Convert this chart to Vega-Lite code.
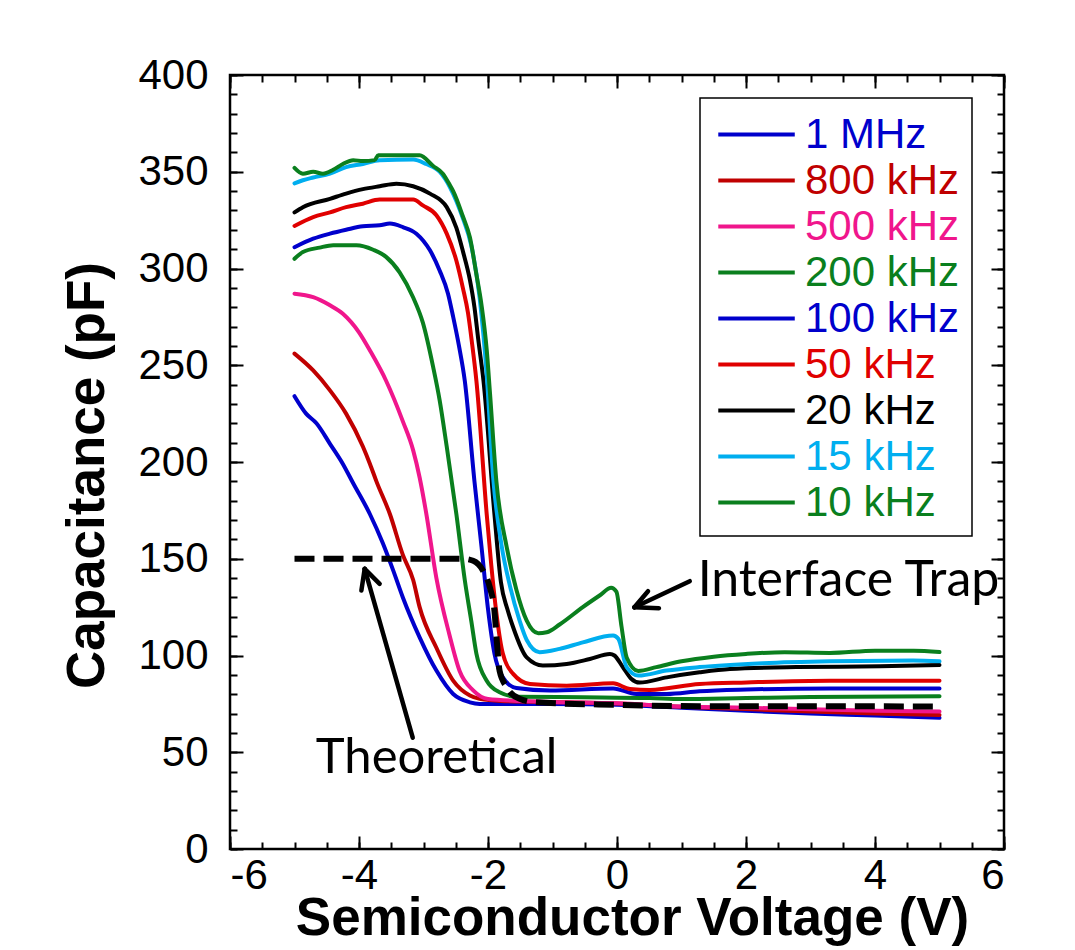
{
"$schema": "https://vega.github.io/schema/vega-lite/v6.json",
"width": 774, "height": 774,
"autosize": {"type": "none"},
"padding": {"left": 230, "top": 75, "right": 71, "bottom": 101},
"config": {
  "view": {"stroke": "black", "strokeWidth": 2.5},
  "axis": {"domain": false, "grid": false, "tickColor": "black", "tickWidth": 2, "labelFont": "Liberation Sans", "labelFontSize": 42, "labelColor": "black", "titleFont": "Liberation Sans", "titleFontSize": 53, "titleFontWeight": "bold", "titleColor": "black"}
},
"datasets": {
"freq": [
{"s":"1 MHz","V":-5,"C":234},{"s":"1 MHz","V":-4.82,"C":225},{"s":"1 MHz","V":-4.66,"C":220},{"s":"1 MHz","V":-4.45,"C":209.4},{"s":"1 MHz","V":-4.25,"C":199},{"s":"1 MHz","V":-4.09,"C":189},{"s":"1 MHz","V":-3.83,"C":173},{"s":"1 MHz","V":-3.63,"C":158},{"s":"1 MHz","V":-3.47,"C":144},{"s":"1 MHz","V":-3.32,"C":130},{"s":"1 MHz","V":-3.06,"C":109.4},{"s":"1 MHz","V":-2.8,"C":92.2},{"s":"1 MHz","V":-2.54,"C":80.1},{"s":"1 MHz","V":-2.28,"C":75.8},{"s":"1 MHz","V":-2.13,"C":75},{"s":"1 MHz","V":-1.8,"C":75},{"s":"1 MHz","V":-1,"C":75},{"s":"1 MHz","V":0,"C":74.5},{"s":"1 MHz","V":1,"C":73},{"s":"1 MHz","V":2,"C":71.5},{"s":"1 MHz","V":3,"C":70},{"s":"1 MHz","V":4,"C":69},{"s":"1 MHz","V":5,"C":67.8},
{"s":"800 kHz","V":-5,"C":256},{"s":"800 kHz","V":-4.71,"C":247.3},{"s":"800 kHz","V":-4.45,"C":237},{"s":"800 kHz","V":-4.2,"C":225},{"s":"800 kHz","V":-3.94,"C":208},{"s":"800 kHz","V":-3.83,"C":199},{"s":"800 kHz","V":-3.73,"C":190},{"s":"800 kHz","V":-3.52,"C":173},{"s":"800 kHz","V":-3.32,"C":152},{"s":"800 kHz","V":-3.16,"C":139},{"s":"800 kHz","V":-3.06,"C":125},{"s":"800 kHz","V":-2.8,"C":104},{"s":"800 kHz","V":-2.54,"C":87},{"s":"800 kHz","V":-2.28,"C":79.3},{"s":"800 kHz","V":-2.13,"C":77.6},{"s":"800 kHz","V":-1.8,"C":76.5},{"s":"800 kHz","V":-1,"C":76},{"s":"800 kHz","V":0,"C":75.2},{"s":"800 kHz","V":1,"C":73.5},{"s":"800 kHz","V":2,"C":72.3},{"s":"800 kHz","V":3,"C":71},{"s":"800 kHz","V":4,"C":70},{"s":"800 kHz","V":5,"C":69.3},
{"s":"500 kHz","V":-5,"C":287},{"s":"500 kHz","V":-4.71,"C":285.2},{"s":"500 kHz","V":-4.45,"C":281},{"s":"500 kHz","V":-4.25,"C":276.6},{"s":"500 kHz","V":-4,"C":267},{"s":"500 kHz","V":-3.83,"C":257.6},{"s":"500 kHz","V":-3.58,"C":242},{"s":"500 kHz","V":-3.32,"C":221},{"s":"500 kHz","V":-3.16,"C":206},{"s":"500 kHz","V":-3.06,"C":192},{"s":"500 kHz","V":-2.96,"C":174},{"s":"500 kHz","V":-2.8,"C":140},{"s":"500 kHz","V":-2.6,"C":111},{"s":"500 kHz","V":-2.44,"C":92},{"s":"500 kHz","V":-2.23,"C":82},{"s":"500 kHz","V":-2,"C":77.5},{"s":"500 kHz","V":-1.5,"C":76.5},{"s":"500 kHz","V":-1,"C":76},{"s":"500 kHz","V":0,"C":75.3},{"s":"500 kHz","V":1,"C":73.6},{"s":"500 kHz","V":2,"C":73},{"s":"500 kHz","V":3,"C":72.2},{"s":"500 kHz","V":4,"C":71.5},{"s":"500 kHz","V":5,"C":71},
{"s":"200 kHz","V":-5,"C":305},{"s":"200 kHz","V":-4.87,"C":308.5},{"s":"200 kHz","V":-4.61,"C":310.8},{"s":"200 kHz","V":-4.4,"C":312},{"s":"200 kHz","V":-4.04,"C":312},{"s":"200 kHz","V":-3.78,"C":309.7},{"s":"200 kHz","V":-3.58,"C":306},{"s":"200 kHz","V":-3.37,"C":298},{"s":"200 kHz","V":-3.16,"C":285},{"s":"200 kHz","V":-3.01,"C":272},{"s":"200 kHz","V":-2.85,"C":249},{"s":"200 kHz","V":-2.75,"C":232},{"s":"200 kHz","V":-2.64,"C":208},{"s":"200 kHz","V":-2.49,"C":173},{"s":"200 kHz","V":-2.36,"C":139},{"s":"200 kHz","V":-2.26,"C":118},{"s":"200 kHz","V":-2.18,"C":101},{"s":"200 kHz","V":-2.02,"C":87},{"s":"200 kHz","V":-1.82,"C":81},{"s":"200 kHz","V":-1.56,"C":78.7},{"s":"200 kHz","V":-0.53,"C":78.4},{"s":"200 kHz","V":0.51,"C":78},{"s":"200 kHz","V":1,"C":77.5},{"s":"200 kHz","V":2,"C":78},{"s":"200 kHz","V":3,"C":78.5},{"s":"200 kHz","V":5,"C":79},
{"s":"100 kHz","V":-5,"C":311},{"s":"100 kHz","V":-4.71,"C":315.4},{"s":"100 kHz","V":-4.45,"C":318},{"s":"100 kHz","V":-4.2,"C":320},{"s":"100 kHz","V":-3.94,"C":321.8},{"s":"100 kHz","V":-3.68,"C":322.3},{"s":"100 kHz","V":-3.52,"C":323.2},{"s":"100 kHz","V":-3.32,"C":321.4},{"s":"100 kHz","V":-3.11,"C":318},{"s":"100 kHz","V":-2.9,"C":309.4},{"s":"100 kHz","V":-2.75,"C":299},{"s":"100 kHz","V":-2.62,"C":287},{"s":"100 kHz","V":-2.54,"C":275},{"s":"100 kHz","V":-2.45,"C":260},{"s":"100 kHz","V":-2.36,"C":242},{"s":"100 kHz","V":-2.21,"C":190},{"s":"100 kHz","V":-2.1,"C":156},{"s":"100 kHz","V":-2,"C":124},{"s":"100 kHz","V":-1.9,"C":101},{"s":"100 kHz","V":-1.77,"C":88.7},{"s":"100 kHz","V":-1.56,"C":83.2},{"s":"100 kHz","V":-1.04,"C":81.9},{"s":"100 kHz","V":-0.06,"C":83},{"s":"100 kHz","V":0.3,"C":80.1},{"s":"100 kHz","V":0.77,"C":80.1},{"s":"100 kHz","V":1.28,"C":81.5},{"s":"100 kHz","V":2.01,"C":82.4},{"s":"100 kHz","V":3.3,"C":83},{"s":"100 kHz","V":5,"C":83},
{"s":"50 kHz","V":-5,"C":322},{"s":"50 kHz","V":-4.71,"C":326.6},{"s":"50 kHz","V":-4.45,"C":329},{"s":"50 kHz","V":-4.2,"C":331.7},{"s":"50 kHz","V":-3.94,"C":333.5},{"s":"50 kHz","V":-3.68,"C":335.6},{"s":"50 kHz","V":-3.16,"C":335.6},{"s":"50 kHz","V":-3.01,"C":332.6},{"s":"50 kHz","V":-2.8,"C":327.5},{"s":"50 kHz","V":-2.64,"C":318},{"s":"50 kHz","V":-2.49,"C":304},{"s":"50 kHz","V":-2.39,"C":290},{"s":"50 kHz","V":-2.31,"C":277},{"s":"50 kHz","V":-2.25,"C":262},{"s":"50 kHz","V":-2.18,"C":242},{"s":"50 kHz","V":-2.02,"C":173},{"s":"50 kHz","V":-1.95,"C":147},{"s":"50 kHz","V":-1.87,"C":122},{"s":"50 kHz","V":-1.77,"C":101},{"s":"50 kHz","V":-1.61,"C":90.5},{"s":"50 kHz","V":-1.35,"C":85.3},{"s":"50 kHz","V":-0.78,"C":84.4},{"s":"50 kHz","V":-0.06,"C":85.6},{"s":"50 kHz","V":0.2,"C":82.7},{"s":"50 kHz","V":0.51,"C":82.2},{"s":"50 kHz","V":1.28,"C":85.3},{"s":"50 kHz","V":2.01,"C":86.1},{"s":"50 kHz","V":3.3,"C":87},{"s":"50 kHz","V":5,"C":87},
{"s":"20 kHz","V":-5,"C":329},{"s":"20 kHz","V":-4.87,"C":331.7},{"s":"20 kHz","V":-4.45,"C":336},{"s":"20 kHz","V":-4.2,"C":338.7},{"s":"20 kHz","V":-3.94,"C":341},{"s":"20 kHz","V":-3.68,"C":342.5},{"s":"20 kHz","V":-3.42,"C":343.8},{"s":"20 kHz","V":-3.16,"C":342.5},{"s":"20 kHz","V":-2.9,"C":338.7},{"s":"20 kHz","V":-2.64,"C":331.7},{"s":"20 kHz","V":-2.49,"C":321},{"s":"20 kHz","V":-2.39,"C":309},{"s":"20 kHz","V":-2.28,"C":294},{"s":"20 kHz","V":-2.21,"C":280},{"s":"20 kHz","V":-2.15,"C":263},{"s":"20 kHz","V":-2.07,"C":242},{"s":"20 kHz","V":-1.9,"C":173},{"s":"20 kHz","V":-1.8,"C":138},{"s":"20 kHz","V":-1.7,"C":124},{"s":"20 kHz","V":-1.61,"C":114.6},{"s":"20 kHz","V":-1.4,"C":99},{"s":"20 kHz","V":-1.15,"C":94.8},{"s":"20 kHz","V":-0.78,"C":95.6},{"s":"20 kHz","V":-0.42,"C":98.2},{"s":"20 kHz","V":-0.11,"C":100.8},{"s":"20 kHz","V":-0.04,"C":100},{"s":"20 kHz","V":0.09,"C":94},{"s":"20 kHz","V":0.22,"C":88},{"s":"20 kHz","V":0.35,"C":86},{"s":"20 kHz","V":0.77,"C":88.7},{"s":"20 kHz","V":1.28,"C":91.3},{"s":"20 kHz","V":1.75,"C":93},{"s":"20 kHz","V":2.78,"C":94},{"s":"20 kHz","V":4.08,"C":94.4},{"s":"20 kHz","V":5,"C":95.1},
{"s":"15 kHz","V":-5,"C":344},{"s":"15 kHz","V":-4.87,"C":345.6},{"s":"15 kHz","V":-4.71,"C":347},{"s":"15 kHz","V":-4.45,"C":349},{"s":"15 kHz","V":-4.2,"C":352.4},{"s":"15 kHz","V":-3.94,"C":354},{"s":"15 kHz","V":-3.68,"C":356},{"s":"15 kHz","V":-3.16,"C":356.3},{"s":"15 kHz","V":-2.96,"C":354},{"s":"15 kHz","V":-2.75,"C":350},{"s":"15 kHz","V":-2.59,"C":342},{"s":"15 kHz","V":-2.39,"C":326},{"s":"15 kHz","V":-2.26,"C":312},{"s":"15 kHz","V":-2.13,"C":285},{"s":"15 kHz","V":-2.02,"C":245},{"s":"15 kHz","V":-1.92,"C":192},{"s":"15 kHz","V":-1.79,"C":157},{"s":"15 kHz","V":-1.66,"C":136},{"s":"15 kHz","V":-1.51,"C":118},{"s":"15 kHz","V":-1.4,"C":108},{"s":"15 kHz","V":-1.2,"C":101.7},{"s":"15 kHz","V":-0.89,"C":103.4},{"s":"15 kHz","V":-0.53,"C":106.8},{"s":"15 kHz","V":-0.06,"C":110.3},{"s":"15 kHz","V":0.02,"C":108.6},{"s":"15 kHz","V":0.15,"C":94},{"s":"15 kHz","V":0.33,"C":89.6},{"s":"15 kHz","V":0.77,"C":92.2},{"s":"15 kHz","V":1.28,"C":94},{"s":"15 kHz","V":2.26,"C":96},{"s":"15 kHz","V":3.3,"C":97},{"s":"15 kHz","V":4.59,"C":97.4},{"s":"15 kHz","V":5,"C":97},
{"s":"10 kHz","V":-5,"C":352},{"s":"10 kHz","V":-4.87,"C":349},{"s":"10 kHz","V":-4.71,"C":350},{"s":"10 kHz","V":-4.56,"C":349},{"s":"10 kHz","V":-4.4,"C":351},{"s":"10 kHz","V":-4.25,"C":354},{"s":"10 kHz","V":-4.09,"C":356},{"s":"10 kHz","V":-3.94,"C":355.5},{"s":"10 kHz","V":-3.76,"C":356},{"s":"10 kHz","V":-3.7,"C":358.5},{"s":"10 kHz","V":-3.06,"C":358.5},{"s":"10 kHz","V":-2.85,"C":353},{"s":"10 kHz","V":-2.7,"C":349},{"s":"10 kHz","V":-2.59,"C":343},{"s":"10 kHz","V":-2.54,"C":340},{"s":"10 kHz","V":-2.39,"C":327},{"s":"10 kHz","V":-2.28,"C":316},{"s":"10 kHz","V":-2.18,"C":297},{"s":"10 kHz","V":-2.1,"C":281},{"s":"10 kHz","V":-2.02,"C":258},{"s":"10 kHz","V":-1.97,"C":236},{"s":"10 kHz","V":-1.87,"C":190},{"s":"10 kHz","V":-1.71,"C":156},{"s":"10 kHz","V":-1.56,"C":134},{"s":"10 kHz","V":-1.4,"C":118},{"s":"10 kHz","V":-1.22,"C":111.5},{"s":"10 kHz","V":-1.09,"C":112},{"s":"10 kHz","V":-0.89,"C":116},{"s":"10 kHz","V":-0.53,"C":125},{"s":"10 kHz","V":-0.27,"C":131},{"s":"10 kHz","V":-0.09,"C":135},{"s":"10 kHz","V":-0.01,"C":133},{"s":"10 kHz","V":0.07,"C":115},{"s":"10 kHz","V":0.15,"C":99},{"s":"10 kHz","V":0.33,"C":92},{"s":"10 kHz","V":0.61,"C":94},{"s":"10 kHz","V":1,"C":97},{"s":"10 kHz","V":1.5,"C":99.4},{"s":"10 kHz","V":2,"C":100.8},{"s":"10 kHz","V":2.6,"C":101.7},{"s":"10 kHz","V":3.3,"C":101.3},{"s":"10 kHz","V":4,"C":102.5},{"s":"10 kHz","V":4.6,"C":102.5},{"s":"10 kHz","V":5,"C":101.8}
],
"theory": [
{"V":-5,"C":150},{"V":-2.39,"C":150},{"V":-2.23,"C":149},{"V":-2.08,"C":144},{"V":-1.97,"C":135},{"V":-1.9,"C":123},{"V":-1.86,"C":106},{"V":-1.82,"C":92},{"V":-1.71,"C":83.6},{"V":-1.51,"C":77.6},{"V":-1.25,"C":75.8},{"V":0,"C":74.5},{"V":1.28,"C":73.8},{"V":5,"C":73.7}
],
"arrows": [
{"V":1.128,"C":138.4,"V2":0.27,"C2":124.9},{"V":0.27,"C":124.9,"V2":0.481,"C2":133.2},{"V":0.27,"C":124.9,"V2":0.651,"C2":124.4},
{"V":-3.167,"C":57.5,"V2":-3.912,"C2":144.8},{"V":-3.912,"C":144.8,"V2":-3.963,"C2":133.6},{"V":-3.912,"C":144.8,"V2":-3.68,"C2":137}
],
"notes": [
{"V":1.25,"C":130.5,"label":"Interface Trap"},
{"V":-4.67,"C":39.5,"label":"Theoretical"}
]
},
"resolve": {"axis": {"x": "independent", "y": "independent"}},
"layer": [
{
 "data": {"name": "freq"},
 "mark": {"type": "line", "strokeWidth": 4, "strokeJoin": "round", "strokeCap": "round", "interpolate": "monotone"},
 "encoding": {
  "x": {"field": "V", "type": "quantitative", "scale": {"domain": [-6, 6], "nice": false, "zero": false},
        "axis": {"orient": "bottom", "values": [-6,-4,-2,0,2,4,6], "ticks": false, "labelPadding": 6, "labelExpr": "'' + datum.value", "title": "Semiconductor Voltage (V)", "titleX": 402, "titleY": 85, "titleBaseline": "alphabetic", "titleAnchor": "middle"}},
  "y": {"field": "C", "type": "quantitative", "scale": {"domain": [0, 400], "nice": false},
        "axis": {"orient": "left", "values": [0,50,100,150,200,250,300,350,400], "ticks": false, "labelPadding": 22, "title": "Capacitance (pF)", "titleX": -127, "titleY": 400, "titleAngle": -90, "titleBaseline": "alphabetic", "titleAnchor": "middle"}},
  "color": {"field": "s", "type": "nominal",
   "scale": {"domain": ["1 MHz","800 kHz","500 kHz","200 kHz","100 kHz","50 kHz","20 kHz","15 kHz","10 kHz"],
             "range": ["#0000CC","#C00000","#F0168C","#0A7F1E","#0000CC","#E00000","#000000","#00AEEF","#0A7F1E"]},
   "legend": {"orient": "none", "legendX": 470, "legendY": 23, "title": null,
     "symbolType": "M-0.81,0H2.59", "symbolSize": 2025, "symbolStrokeWidth": 4,
     "labelFont": "Liberation Sans", "labelFontSize": 42, "labelOffset": 44, "rowPadding": 0, "padding": 12,
     "strokeColor": "black",
     "encode": {"labels": {"update": {"fill": {"scale": "color", "field": "value"}}}, "legend": {"update": {"strokeWidth": {"value": 1.5}}}}}}
 }
},
{
 "data": {"name": "theory"},
 "mark": {"type": "line", "color": "black", "strokeWidth": 6, "strokeDash": [20, 9], "interpolate": "monotone"},
 "encoding": {
  "x": {"field": "V", "type": "quantitative", "axis": {"orient": "bottom", "values": [-6,-4,-2,0,2,4,6], "tickSize": -13, "labels": false, "title": null}},
  "y": {"field": "C", "type": "quantitative", "axis": {"orient": "left", "values": [0,50,100,150,200,250,300,350,400], "tickSize": -13, "labels": false, "title": null}}
 }
},
{
 "data": {"name": "arrows"},
 "mark": {"type": "rule", "color": "black", "strokeWidth": 4.5, "strokeCap": "round"},
 "encoding": {
  "x": {"field": "V", "type": "quantitative", "axis": {"orient": "bottom", "values": [-6,-5.5,-5,-4.5,-4,-3.5,-3,-2.5,-2,-1.5,-1,-0.5,0,0.5,1,1.5,2,2.5,3,3.5,4,4.5,5,5.5,6], "tickSize": -7, "labels": false, "title": null}},
  "y": {"field": "C", "type": "quantitative", "axis": {"orient": "left", "values": [0,10,20,30,40,50,60,70,80,90,100,110,120,130,140,150,160,170,180,190,200,210,220,230,240,250,260,270,280,290,300,310,320,330,340,350,360,370,380,390,400], "tickSize": -7, "labels": false, "title": null}},
  "x2": {"field": "V2"},
  "y2": {"field": "C2"}
 }
},
{
 "data": {"name": "notes"},
 "transform": [{"filter": "datum.label == 'Interface Trap'"}],
 "mark": {"type": "text", "font": "Lato", "fontSize": 50, "align": "left", "baseline": "alphabetic", "color": "black"},
 "encoding": {
  "x": {"field": "V", "type": "quantitative", "axis": {"orient": "top", "values": [-6,-4,-2,0,2,4,6], "tickSize": -13, "labels": false, "title": null}},
  "y": {"field": "C", "type": "quantitative", "axis": {"orient": "right", "values": [0,50,100,150,200,250,300,350,400], "tickSize": -13, "labels": false, "title": null}},
  "text": {"field": "label"}
 }
},
{
 "data": {"name": "notes"},
 "transform": [{"filter": "datum.label == 'Theoretical'"}],
 "mark": {"type": "text", "font": "Lato", "fontSize": 49, "align": "left", "baseline": "alphabetic", "color": "black"},
 "encoding": {
  "x": {"field": "V", "type": "quantitative", "axis": {"orient": "top", "values": [-6,-5.5,-5,-4.5,-4,-3.5,-3,-2.5,-2,-1.5,-1,-0.5,0,0.5,1,1.5,2,2.5,3,3.5,4,4.5,5,5.5,6], "tickSize": -7, "labels": false, "title": null}},
  "y": {"field": "C", "type": "quantitative", "axis": {"orient": "right", "values": [0,10,20,30,40,50,60,70,80,90,100,110,120,130,140,150,160,170,180,190,200,210,220,230,240,250,260,270,280,290,300,310,320,330,340,350,360,370,380,390,400], "tickSize": -7, "labels": false, "title": null}},
  "text": {"field": "label"}
 }
}
]
}
